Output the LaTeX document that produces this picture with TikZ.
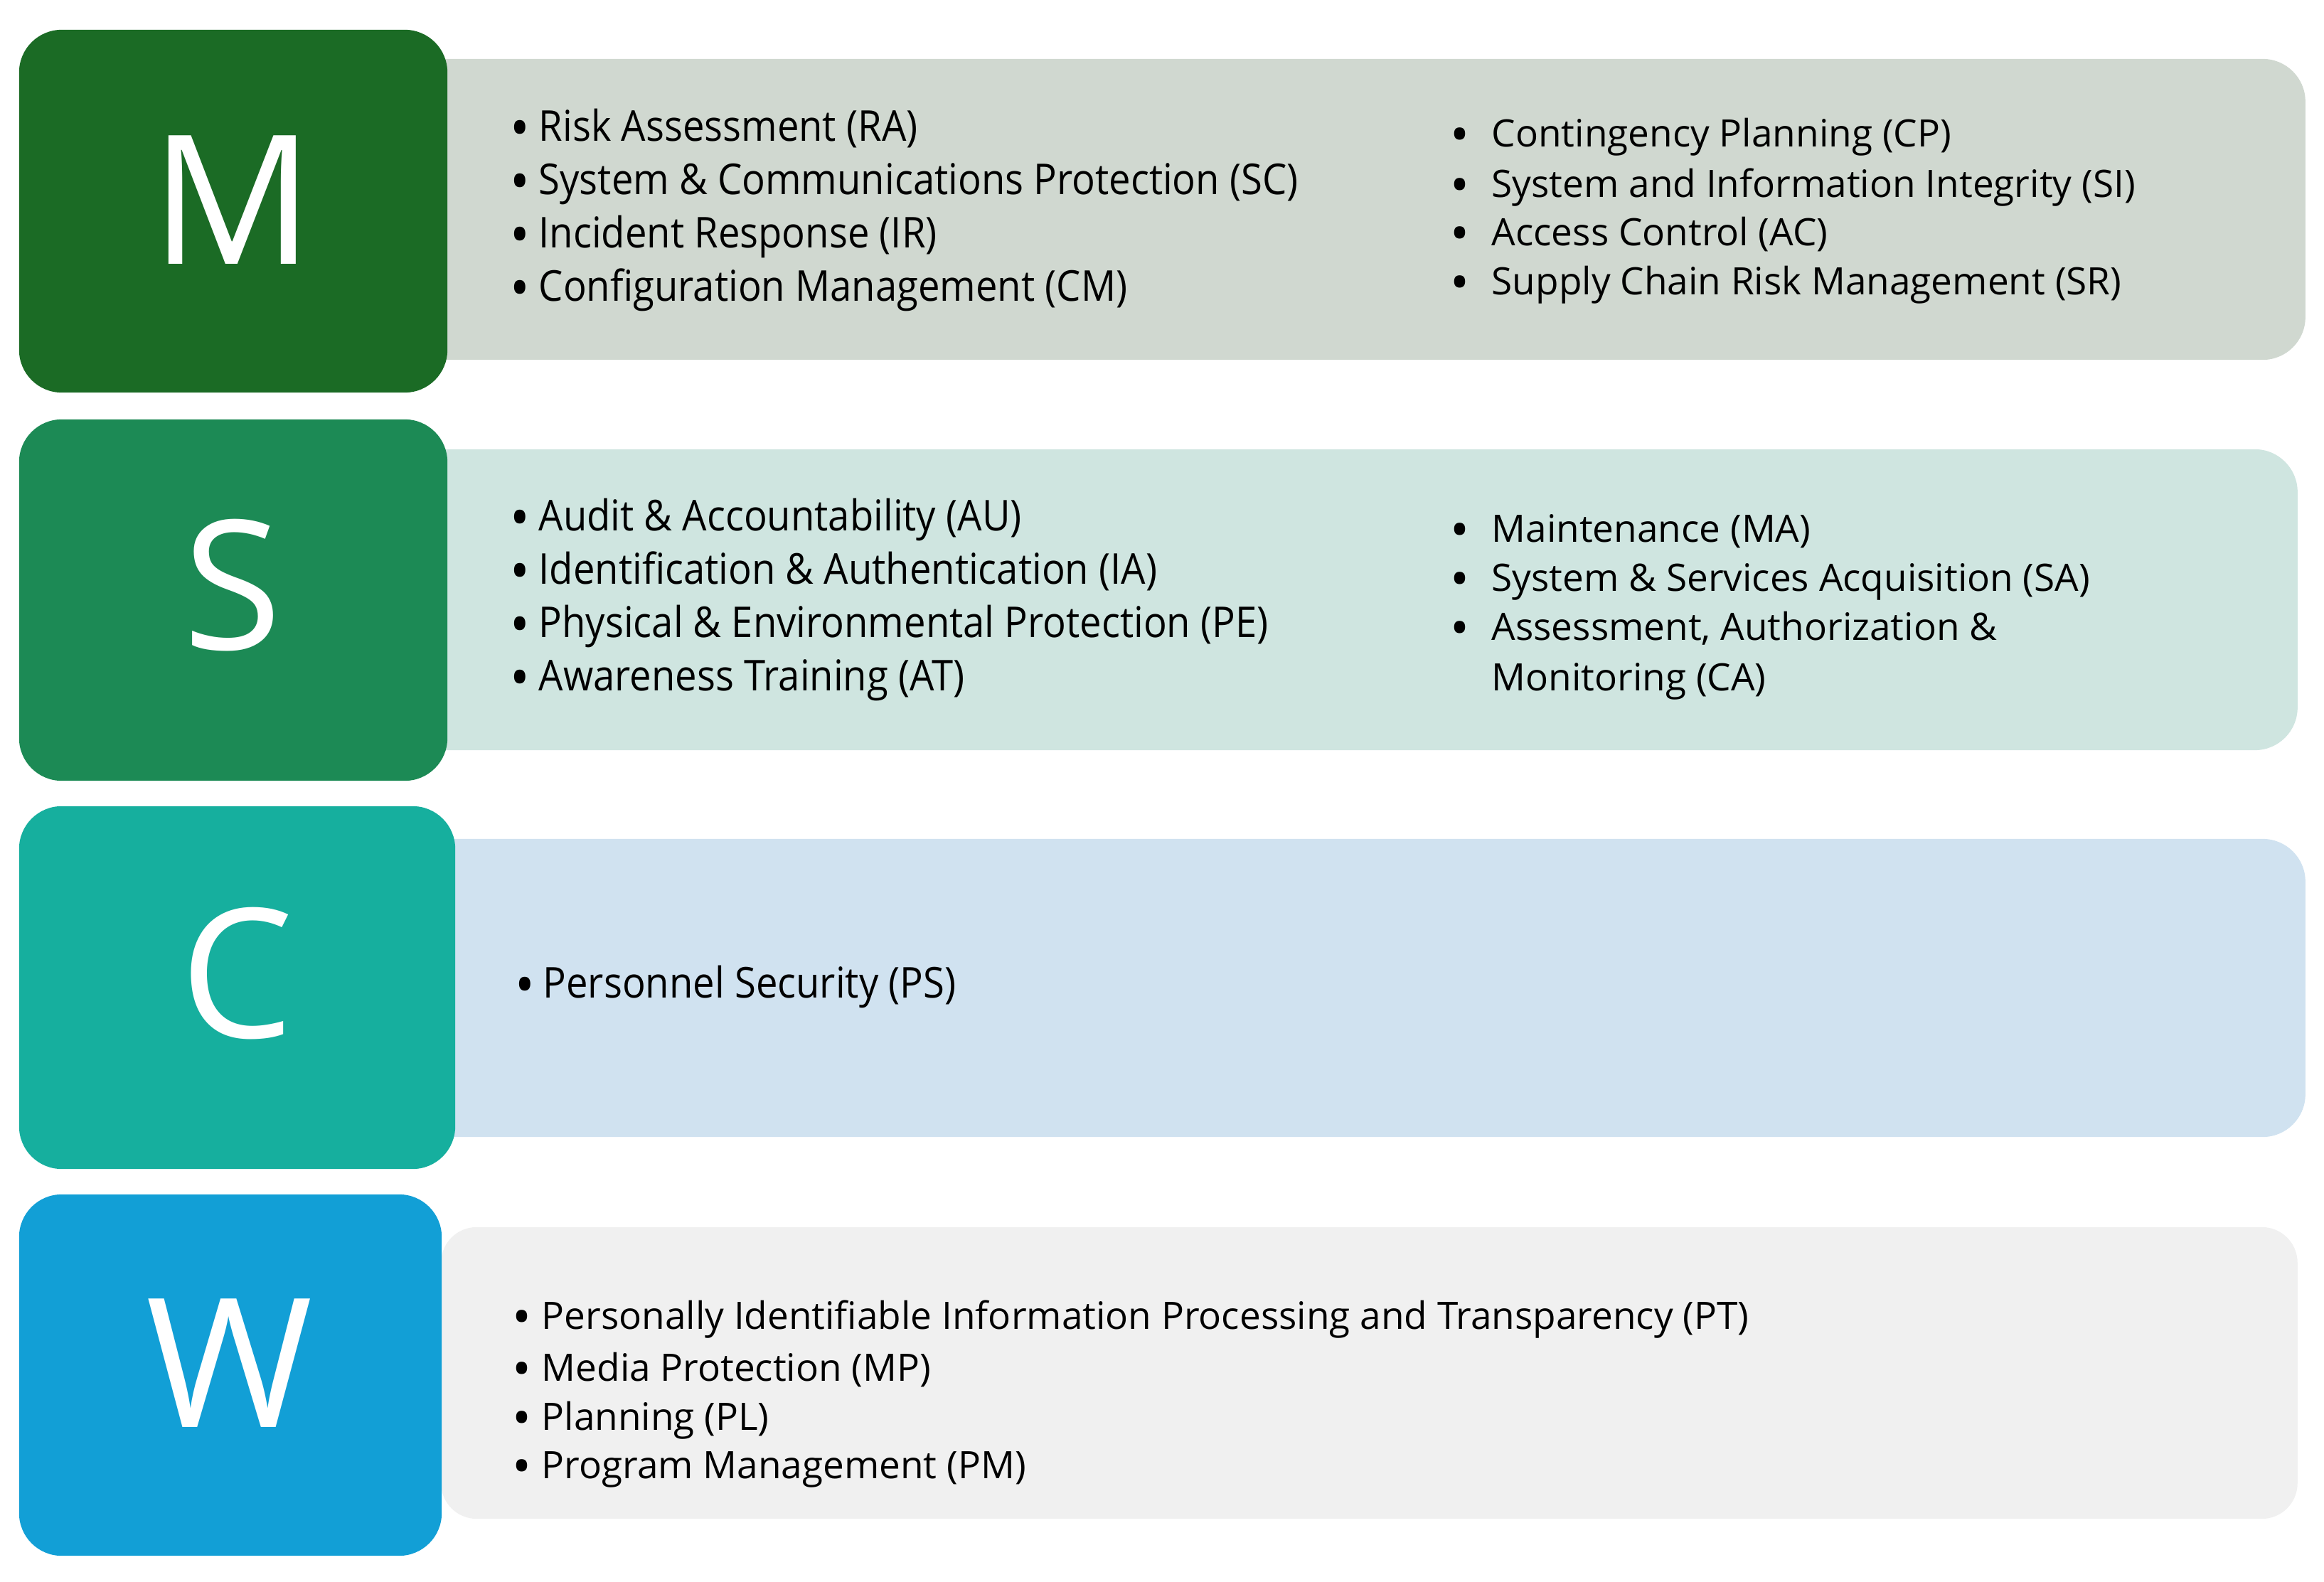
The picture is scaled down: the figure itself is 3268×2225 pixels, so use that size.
\documentclass[tikz,border=0pt]{standalone}
\usepackage{fontspec}
\setmainfont{Open Sans}
\newfontfamily\bigfont{Open Sans}
\newfontfamily\condfont[FakeStretch=0.91]{Open Sans}
\definecolor{mbox}{HTML}{1B6B25}
\definecolor{sbox}{HTML}{1C8A55}
\definecolor{cbox}{HTML}{16AF9E}
\definecolor{wbox}{HTML}{129FD6}
\definecolor{mpan}{HTML}{D0D8D0}
\definecolor{span}{HTML}{CFE5E0}
\definecolor{cpan}{HTML}{D0E2F0}
\definecolor{wpan}{HTML}{F0F0F0}
\newcommand\entry[6]{%
  \node[#2,anchor=center] (#1b) at (#3,#5) {\scalebox{1.35}{\textbullet}};
  \node[#2,anchor=mid west] (#1) at (#4,#5) {#6};}
\begin{document}
\begin{tikzpicture}[x=0.01cm,y=-0.01cm,
  letterbox/.style={rounded corners=0.6cm, inner sep=0, draw=none},
  panel/.style={rounded corners=0.6cm, inner sep=0, draw=none},
  bigletter/.style={text=white, font=\bigfont\fontsize{72}{72}\selectfont, inner sep=0},
  itemL/.style={inner sep=0, yshift=-0.1cm, font=\condfont\fontsize{17}{19}\selectfont},
  itemR/.style={inner sep=0, yshift=-0.07cm, font=\fontsize{15.1}{17}\selectfont}]
\useasboundingbox (0,0) rectangle (3268,2225);
% panels
\node[panel, fill=mpan, minimum width=28.41cm, minimum height=4.23cm] (pM) at (1820.5,294.5) {};
\node[panel, fill=span, minimum width=28.30cm, minimum height=4.23cm] (pS) at (1815,843.5) {};
\node[panel, fill=cpan, minimum width=28.41cm, minimum height=4.19cm] (pC) at (1820.5,1389.5) {};
\node[panel, fill=wpan, minimum width=26.09cm, minimum height=4.10cm, rounded corners=0.5cm] (pW) at (1925.5,1931) {};
% letter boxes
\node[letterbox, fill=mbox, minimum width=6.02cm, minimum height=5.10cm] (bM) at (328,297) {};
\node[letterbox, fill=sbox, minimum width=6.02cm, minimum height=5.08cm] (bS) at (328,844) {};
\node[letterbox, fill=cbox, minimum width=6.13cm, minimum height=5.10cm] (bC) at (333.5,1389) {};
\node[letterbox, fill=wbox, minimum width=5.94cm, minimum height=5.08cm] (bW) at (324,1934) {};
\node[bigletter] (lM) at (327,281) {M};
\node[bigletter] (lS) at (327,823) {S};
\node[bigletter] (lC) at (333,1369) {C};
\node[bigletter] (lW) at (323,1917) {W};
% M items
\entry{m1}{itemL}{731}{757}{179}{Risk Assessment (RA)}
\entry{m2}{itemL}{731}{757}{254}{System \& Communications Protection (SC)}
\entry{m3}{itemL}{731}{757}{329}{Incident Response (IR)}
\entry{m4}{itemL}{731}{757}{404}{Configuration Management (CM)}
\entry{m5}{itemR}{2053}{2097}{190}{Contingency Planning (CP)}
\entry{m6}{itemR}{2053}{2097}{261}{System and Information Integrity (SI)}
\entry{m7}{itemR}{2053}{2097}{329}{Access Control (AC)}
\entry{m8}{itemR}{2053}{2097}{398}{Supply Chain Risk Management (SR)}
% S items
\entry{s1}{itemL}{731}{757}{727}{Audit \& Accountability (AU)}
\entry{s2}{itemL}{731}{757}{802}{Identification \& Authentication (IA)}
\entry{s3}{itemL}{731}{757}{877}{Physical \& Environmental Protection (PE)}
\entry{s4}{itemL}{731}{757}{952}{Awareness Training (AT)}
\entry{s5}{itemR}{2053}{2097}{746}{Maintenance (MA)}
\entry{s6}{itemR}{2053}{2097}{815}{System \& Services Acquisition (SA)}
\entry{s7}{itemR}{2053}{2097}{884}{Assessment, Authorization \&}
\node[itemR,anchor=mid west] (s8) at (2097,955) {Monitoring (CA)};
% C items
\entry{c1}{itemL}{738}{763}{1384}{Personnel Security (PS)}
% W items
\entry{w1}{itemR}{734}{761}{1853}{Personally Identifiable Information Processing and Transparency (PT)}
\entry{w2}{itemR}{734}{761}{1926}{Media Protection (MP)}
\entry{w3}{itemR}{734}{761}{1995}{Planning (PL)}
\entry{w4}{itemR}{734}{761}{2063}{Program Management (PM)}
\end{tikzpicture}
\end{document}
